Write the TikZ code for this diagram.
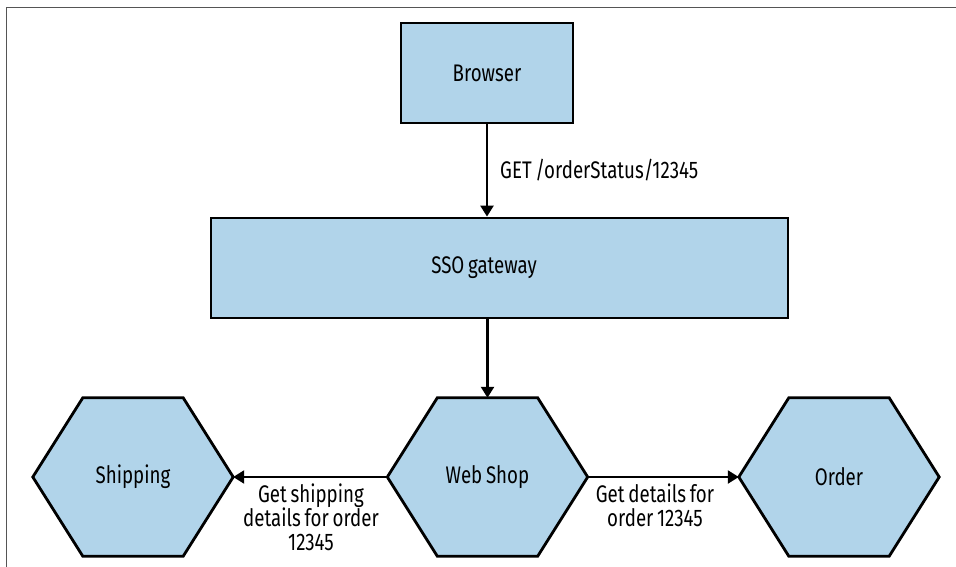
\documentclass[tikz,border=0pt]{standalone}
\usepackage{fontspec}
\setmainfont[FakeStretch=0.78,WordSpace=0.75]{Fira Sans}
\usetikzlibrary{arrows.meta,backgrounds}
\definecolor{boxblue}{HTML}{B1D4EA}
\definecolor{framegray}{HTML}{555555}
\begin{document}
\begin{tikzpicture}[x=1pt,y=-1pt,
  txt/.style={font=\fontsize{24}{24}\selectfont, text=black},
  boxnode/.style={draw=black, line width=2.8pt, fill=boxblue, inner sep=0pt},
  hexnode/.style={draw=none, inner sep=0pt, minimum width=200pt, minimum height=158pt, txt},
  hexfill/.style={draw=black, line width=2.8pt, fill=boxblue, line join=miter},
  conn/.style={draw=black, line width=2.4pt, -{Triangle[length=11pt,width=13pt]}},
  lbl/.style={txt, align=center, inner sep=0pt}
]
\useasboundingbox (0,0) rectangle (956,567);
% frame
\draw[framegray, line width=1pt] (6,567) -- (6,8) -- (956,8);

% boxes
\node[boxnode, minimum width=172pt, minimum height=100pt, txt] (browser) at (487,73) {Browser};
\node[boxnode, minimum width=577pt, minimum height=100pt] (sso) at (499.5,268) {};
\node[txt, inner sep=0pt] (ssotext) at (484,268) {SSO gateway};

% hexagon nodes
\node[hexnode] (shipping) at (133,477) {Shipping};
\node[hexnode] (webshop) at (487.5,477) {Web Shop};
\node[hexnode] (order) at (839,477) {Order};

\begin{scope}[on background layer]
\foreach \n in {shipping,webshop,order}{
  \draw[hexfill] (\n.west) -- ([xshift=50pt]\n.north west) -- ([xshift=-50pt]\n.north east)
     -- (\n.east) -- ([xshift=-50pt]\n.south east) -- ([xshift=50pt]\n.south west) -- cycle;
}
\end{scope}

% connectors
\draw[conn] (browser.south) -- (browser.south |- sso.north);
\draw[conn] (webshop.north |- sso.south) -- (webshop.north);
\draw[conn] (webshop.west) -- (shipping.east);
\draw[conn] (webshop.east) -- (order.west);

% labels
\node[lbl, anchor=west] (getlbl) at (500,170) {GET /orderStatus/12345};
\node[lbl, anchor=north] (shiplbl) at (311,484) {Get shipping\\details for order\\12345};
\node[lbl, anchor=north] (orderlbl) at (655,484) {Get details for\\order 12345};
\end{tikzpicture}
\end{document}
